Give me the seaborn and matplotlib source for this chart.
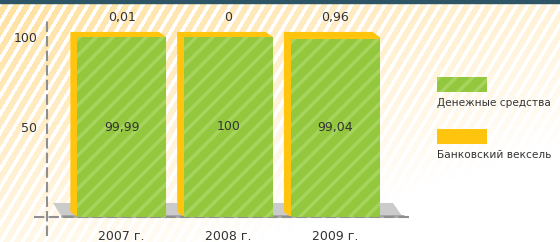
import numpy as np
import pandas as pd
import matplotlib
matplotlib.use("Agg")
import matplotlib.pyplot as plt
from matplotlib.patches import Polygon, Rectangle
import seaborn as sns

#Chart data
years = ["2007 г.", "2008 г.", "2009 г."]
cash = [99.99, 100, 99.04]
bill = [0.01, 0, 0.96]
series_names = ["Денежные средства", "Банковский вексель"]

GREEN = "#93c83e"
GREEN_LT = "#a6d45c"
YELLOW = "#ffc40d"
TEXT = "#333333"
GRID = "#8f8f8f"

sns.set_style("white")
plt.rcParams["font.family"] = ["DejaVu Sans"]
plt.rcParams["hatch.linewidth"] = 2.5

df = pd.DataFrame({"year": years, "cash": cash, "bill": bill})
df["total"] = df["cash"] + df["bill"]

def fmt(v):
    return f"{v:g}".replace(".", ",")

fig = plt.figure(figsize=(5.6, 2.42), dpi=100)

#Striped background fading from the top-left corner
bg = fig.add_axes([0, 0, 1, 1], zorder=0)
H, W = 242, 560
yy, xx = np.mgrid[0:H, 0:W]
stripe = ((xx + yy * 0.6) % 11) > 4
fade = np.clip(1.0 - 0.55 * xx / W - 0.75 * yy / H, 0, 1)
tint = np.array([1.0, 0.88, 0.62])
amount = (stripe * fade)[..., None]
img = 1 - amount * (1 - tint)
bg.imshow(img, aspect="auto", extent=[0, 1, 0, 1], origin="upper")
bg.add_patch(Rectangle((0, 1 - 3 / H), 1, 3 / H, color="#2d5566"))
bg.set_xlim(0, 1)
bg.set_ylim(0, 1)
bg.axis("off")

#Main axes
ax = fig.add_axes([47 / 560, 7 / 242, 363 / 560, 216 / 242], zorder=1)
ax.patch.set_alpha(0)

bar_w = 0.83
dx, dy = 0.066, 2.8

#Grey floor under the bars
ax.add_patch(Polygon([(-0.644, 7.8), (2.54, 7.8), (2.633, 0), (-0.56, 0)],
                     closed=True, facecolor="#cbcbcb", edgecolor="none", zorder=1))
ax.plot([-0.56, 2.633], [0.6, 0.6], color="#a5a5a5", lw=2, zorder=1.5)

#Yellow 3D extrusion behind each bar
for i, t in enumerate(df["total"]):
    x0, x1 = i - bar_w / 2, i + bar_w / 2
    ax.add_patch(Polygon([(x0, 0), (x0 - dx, dy), (x0 - dx, t + dy),
                          (x1 - dx, t + dy), (x1, t), (x1, 0)],
                         closed=True, facecolor=YELLOW, edgecolor="none", zorder=2))

#Stacked bars: yellow total under green cash
sns.barplot(data=df, x="year", y="total", color=YELLOW, width=bar_w, ax=ax,
            saturation=1, errorbar=None, linewidth=0, zorder=3)
sns.barplot(data=df, x="year", y="cash", color=GREEN, width=bar_w, ax=ax,
            saturation=1, errorbar=None, linewidth=0, hatch="//",
            edgecolor=GREEN_LT, zorder=4)

#Value labels
for i, r in df.iterrows():
    ax.text(i, r["cash"] / 2, fmt(r["cash"]), ha="center", va="center",
            fontsize=9, color=TEXT, zorder=5)
    ax.text(i, 111, fmt(r["bill"]), ha="center", va="center",
            fontsize=9, color=TEXT, clip_on=False, zorder=5)

ax.set_xlim(-0.7, 2.7)
ax.set_ylim(-10, 110)
ax.set_yticks([50, 100])
ax.set_xlabel("")
ax.set_ylabel("")

sns.despine(ax=ax, top=True, right=True)
for side in ["left", "bottom"]:
    ax.spines[side].set_color(GRID)
    ax.spines[side].set_linestyle((0, (4, 3)))
    ax.spines[side].set_linewidth(1.5)
ax.spines["bottom"].set_position(("data", 0))
ax.spines["bottom"].set_bounds(-0.81, 2.7)

ax.tick_params(axis="x", length=0, pad=9, labelsize=9, labelcolor=TEXT)
ax.tick_params(axis="y", length=5, width=1, color=GRID, pad=2,
               labelsize=9, labelcolor=TEXT)

#Legend drawn by hand: patch above label
leg_colors = [GREEN, YELLOW]
leg_hatch = ["//", None]
leg_y = [150, 98]
for name, c, h, y in zip(series_names, leg_colors, leg_hatch, leg_y):
    fig.add_artist(Rectangle((437 / 560, y / 242), 50 / 560, 15 / 242,
                             facecolor=c, edgecolor=GREEN_LT if h else "none",
                             hatch=h, linewidth=0, transform=fig.transFigure))
    fig.text(437 / 560, (y - 11) / 242, name, ha="left", va="center",
             fontsize=7.6, color=TEXT)

fig.savefig("out.png", dpi=100)
